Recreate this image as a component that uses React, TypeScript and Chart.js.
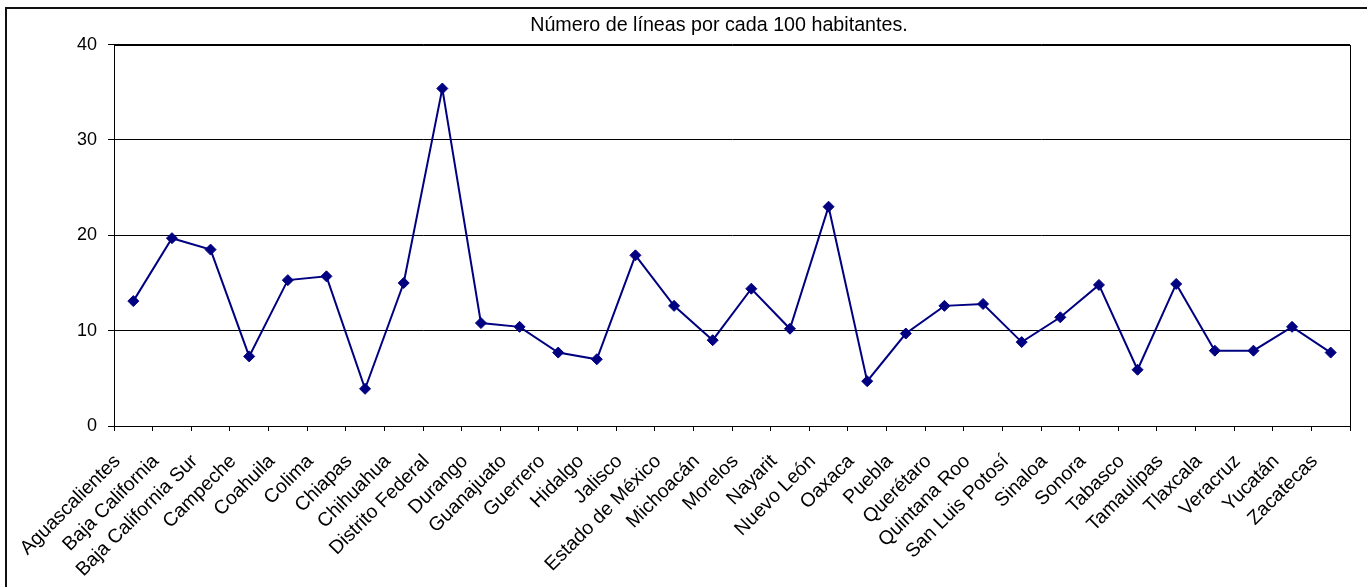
import React, { useEffect, useRef } from "react";
import { Chart, registerables } from "chart.js";

Chart.register(...registerables);

// Estados de la República
const states: string[] = [
  "Aguascalientes", "Baja California", "Baja California Sur", "Campeche",
  "Coahuila", "Colima", "Chiapas", "Chihuahua", "Distrito Federal",
  "Durango", "Guanajuato", "Guerrero", "Hidalgo", "Jalisco",
  "Estado de México", "Michoacán", "Morelos", "Nayarit", "Nuevo León",
  "Oaxaca", "Puebla", "Querétaro", "Quintana Roo", "San Luis Potosí",
  "Sinaloa", "Sonora", "Tabasco", "Tamaulipas", "Tlaxcala", "Veracruz",
  "Yucatán", "Zacatecas",
];

// Líneas telefónicas por cada 100 habitantes
const linesPer100: number[] = [
  13.1, 19.7, 18.5, 7.3, 15.3, 15.7, 3.9, 15.0, 35.4,
  10.8, 10.4, 7.7, 7.0, 17.9, 12.6, 9.0, 14.4, 10.2, 23.0,
  4.7, 9.7, 12.6, 12.8, 8.8, 11.4, 14.8, 5.9, 14.9, 7.9, 7.9,
  10.4, 7.7,
];

const yTicks: number[] = [0, 10, 20, 30, 40];

const titleText = "Número de líneas por cada 100 habitantes.";
const FONT = "'Liberation Sans', Arial, sans-serif";

// Draws the rectangle around the plotting area
const plotFrame = {
  id: "plotFrame",
  afterDraw(chart: Chart) {
    const { ctx, chartArea } = chart;
    ctx.save();
    ctx.strokeStyle = "#000";
    ctx.lineWidth = 1;
    ctx.strokeRect(
      Math.round(chartArea.left) + 0.5,
      Math.round(chartArea.top) + 0.5,
      Math.round(chartArea.right - chartArea.left),
      Math.round(chartArea.bottom - chartArea.top)
    );
    ctx.restore();
  },
};

// Centres the title between the value labels' column and the plot's right edge
const titleSpan = {
  id: "titleSpan",
  afterLayout(chart: Chart) {
    const t: any = (chart as any).titleBlock;
    if (!t) return;
    t.left = 88;
    t.right = chart.chartArea.right;
    t.width = t.right - t.left;
  },
};

export default function App() {
  const canvasRef = useRef<HTMLCanvasElement | null>(null);

  useEffect(() => {
    document.body.style.margin = "0";
    const canvas = canvasRef.current;
    if (!canvas) return;
    const chart = new Chart(canvas, {
      type: "line",
      data: {
        labels: states,
        datasets: [
          {
            data: linesPer100,
            borderColor: "#000080",
            backgroundColor: "#000080",
            borderWidth: 2,
            pointStyle: "rectRot",
            pointRadius: 5.5,
            pointBorderWidth: 1,
            pointBorderColor: "#000080",
            pointBackgroundColor: "#000080",
            tension: 0,
            fill: false,
          },
        ],
      },
      options: {
        responsive: false,
        animation: false,
        devicePixelRatio: 1,
        layout: { padding: { left: 0, right: 17, top: 0, bottom: 0 } },
        plugins: {
          legend: { display: false },
          tooltip: { enabled: false },
          title: {
            display: true,
            text: titleText,
            color: "#000",
            font: { family: FONT, size: 19.7, weight: "normal" },
            padding: { top: 14, bottom: 7 },
          },
        },
        scales: {
          x: {
            type: "category",
            offset: true,
            grid: {
              offset: true,
              drawOnChartArea: false,
              drawTicks: true,
              tickLength: 5,
              color: "#000",
            },
            border: { display: true, color: "#000" },
            ticks: {
              autoSkip: false,
              minRotation: 45,
              maxRotation: 45,
              color: "#000",
              padding: 19,
              labelOffset: -16,
              font: { family: FONT, size: 19.5 },
            },
            afterFit(scale: any) {
              scale.height = 161;
              scale.paddingLeft = 0;
              scale.paddingRight = 0;
            },
          },
          y: {
            min: 0,
            max: 40,
            afterBuildTicks(scale: any) {
              scale.ticks = yTicks.map((v) => ({ value: v }));
            },
            grid: {
              color: "#000",
              drawTicks: true,
              tickLength: 6,
            },
            border: { display: true, color: "#000" },
            ticks: {
              color: "#000",
              padding: 11,
              font: { family: FONT, size: 18 },
            },
            afterFit(scale: any) {
              scale.width = 114;
            },
          },
        },
      },
      plugins: [plotFrame, titleSpan],
    });
    return () => chart.destroy();
  }, []);

  return (
    <div
      style={{
        position: "relative",
        width: 1367,
        height: 587,
        overflow: "hidden",
        background: "#fff",
      }}
    >
      <div
        style={{
          position: "absolute",
          left: 5,
          top: 7,
          width: 1420,
          height: 700,
          border: "2px solid #111",
          boxSizing: "border-box",
        }}
      />
      <canvas
        ref={canvasRef}
        width={1367}
        height={587}
        style={{ position: "absolute", left: 0, top: 0 }}
      />
    </div>
  );
}
